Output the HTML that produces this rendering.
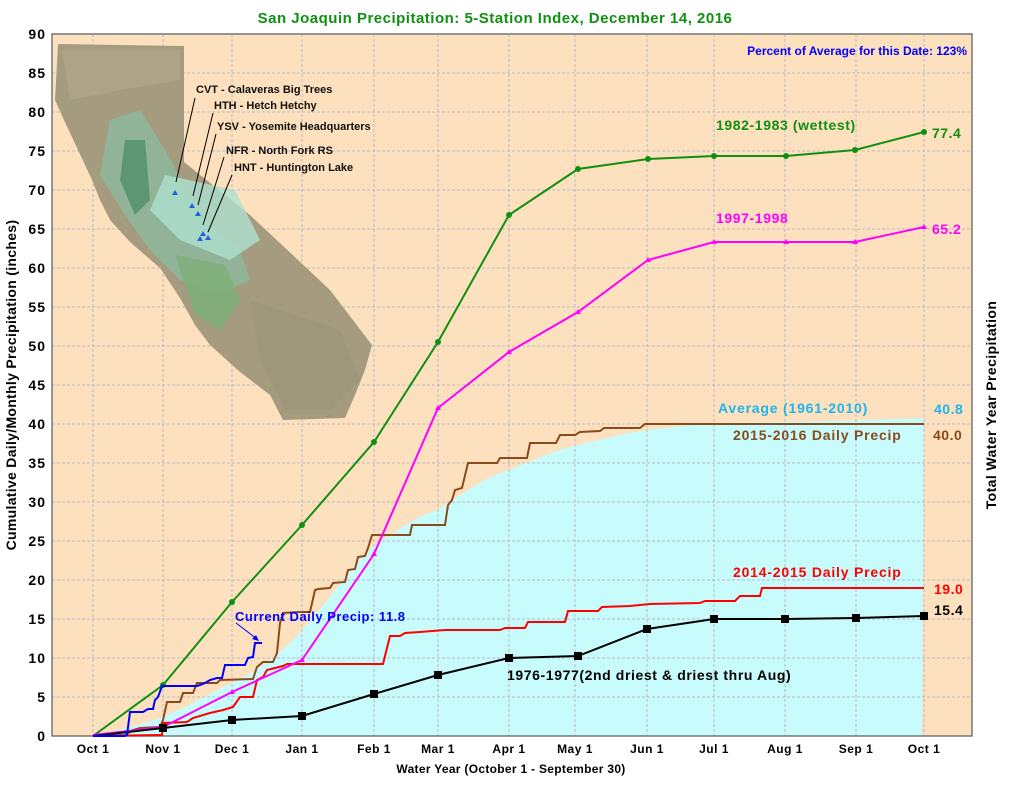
<!DOCTYPE html>
<html><head><meta charset="utf-8"><style>
body{margin:0;background:#fff;}
svg{display:block;font-family:"Liberation Sans",Arial,sans-serif;font-weight:bold;}
</style></head><body>
<svg width="1012" height="788" viewBox="0 0 1012 788" xmlns="http://www.w3.org/2000/svg">
<rect x="0" y="0" width="1012" height="788" fill="#fff"/>
<rect x="52" y="34" width="920" height="702" fill="#fde0bd"/>
<!-- average fill -->
<path d="M93,736 C120,730 150,722 163,717 C190,706 215,690 232,683 C260,670 285,650 302,630 C330,600 355,560 374,546 C400,528 420,515 438,510 C470,488 490,475 509,470 C540,457 560,449 578,445 C610,437 630,432 648,430 C680,426 700,424 714,423 C760,422 850,421 924,418 L922,736 Z" fill="#c8fcfc"/>
<!-- grid -->
<g stroke="#b8bcc8" stroke-width="1" stroke-dasharray="3,2">
<line x1="52" y1="697" x2="972" y2="697"/><line x1="52" y1="658" x2="972" y2="658"/><line x1="52" y1="619" x2="972" y2="619"/><line x1="52" y1="580" x2="972" y2="580"/><line x1="52" y1="541" x2="972" y2="541"/><line x1="52" y1="502" x2="972" y2="502"/><line x1="52" y1="463" x2="972" y2="463"/><line x1="52" y1="424" x2="972" y2="424"/><line x1="52" y1="385" x2="972" y2="385"/><line x1="52" y1="346" x2="972" y2="346"/><line x1="52" y1="307" x2="972" y2="307"/><line x1="52" y1="268" x2="972" y2="268"/><line x1="52" y1="229" x2="972" y2="229"/><line x1="52" y1="190" x2="972" y2="190"/><line x1="52" y1="151" x2="972" y2="151"/><line x1="52" y1="112" x2="972" y2="112"/><line x1="52" y1="73" x2="972" y2="73"/>
<line x1="93" y1="34" x2="93" y2="736"/><line x1="163" y1="34" x2="163" y2="736"/><line x1="232" y1="34" x2="232" y2="736"/><line x1="302" y1="34" x2="302" y2="736"/><line x1="374" y1="34" x2="374" y2="736"/><line x1="438" y1="34" x2="438" y2="736"/><line x1="509" y1="34" x2="509" y2="736"/><line x1="575" y1="34" x2="575" y2="736"/><line x1="647" y1="34" x2="647" y2="736"/><line x1="714" y1="34" x2="714" y2="736"/><line x1="785" y1="34" x2="785" y2="736"/><line x1="856" y1="34" x2="856" y2="736"/><line x1="924" y1="34" x2="924" y2="736"/>
</g>
<rect x="52" y="34" width="920" height="702" fill="none" stroke="#777" stroke-width="1.5"/>
<!-- map -->
<polygon points="58,44 184,46 184,162 250,215 330,290 372,345 365,370 355,395 345,418 283,420 270,395 240,372 210,345 195,325 180,298 160,268 130,242 110,220 100,200 92,180 78,150 64,120 55,100" fill="#a59c80"/>
<polygon points="110,120 140,110 165,150 200,215 240,250 250,280 215,295 180,280 150,250 125,215 100,175" fill="#8fb69a" opacity="0.9"/>
<polygon points="125,140 145,140 150,200 135,215 120,180" fill="#4f8f6a" opacity="0.8"/>
<polygon points="165,175 235,190 260,240 230,260 180,240 150,210" fill="#aee0d0" opacity="0.8"/>
<polygon points="175,255 225,265 240,300 220,330 195,315" fill="#7fae7a" opacity="0.9"/>
<polygon points="62,50 180,50 180,80 120,90 70,100" fill="#b3a68a" opacity="0.7"/>
<polygon points="250,300 340,330 360,380 330,410 285,410 260,360" fill="#9d9578" opacity="0.7"/>
<g fill="#2060e0"><polygon points="175,190 178,195 172,195"/><polygon points="192,203 195,208 189,208"/><polygon points="198,211 201,216 195,216"/><polygon points="203,231 206,236 200,236"/><polygon points="208,235 211,240 205,240"/><polygon points="200,236 203,241 197,241"/></g>
<g stroke="#000" stroke-width="1" fill="none">
<line x1="195" y1="98" x2="176" y2="182"/><line x1="213" y1="113" x2="193" y2="196"/><line x1="216" y1="134" x2="198" y2="205"/><line x1="224" y1="157" x2="203" y2="225"/><line x1="232" y1="175" x2="208" y2="232"/>
</g>
<g font-size="11" fill="#111">
<text x="196" y="93">CVT - Calaveras Big Trees</text>
<text x="214" y="109">HTH - Hetch Hetchy</text>
<text x="217" y="130">YSV - Yosemite Headquarters</text>
<text x="226" y="154">NFR - North Fork RS</text>
<text x="234" y="171">HNT - Huntington Lake</text>
</g>
<!-- series -->
<polyline fill="none" stroke="#109010" stroke-width="2" points="93,736 163,685 232,602 302,525 374,442 438,342 509,215 578,169 648,159 714,156 786,156 855,150 924,132"/>
<g fill="#109010"><circle cx="163" cy="685" r="3"/><circle cx="232" cy="602" r="3"/><circle cx="302" cy="525" r="3"/><circle cx="374" cy="442" r="3"/><circle cx="438" cy="342" r="3"/><circle cx="509" cy="215" r="3"/><circle cx="578" cy="169" r="3"/><circle cx="648" cy="159" r="3"/><circle cx="714" cy="156" r="3"/><circle cx="786" cy="156" r="3"/><circle cx="855" cy="150" r="3"/><circle cx="924" cy="132" r="3"/></g>
<polyline fill="none" stroke="#8b4a1c" stroke-width="2" points="93,736 125,735 133,730 140,728 160,727 163,720 167,702 180,702 183,693 193,693 197,683 217,683 220,680 253,679 257,667 263,662 273,662 277,653 280,623 283,613 300,612 310,612 315,590 318,589 330,588 333,583 345,582 348,570 355,569 358,557 365,556 368,548 372,535 410,535 412,525 445,525 448,505 452,500 455,490 462,488 468,463 497,463 500,458 527,458 530,443 556,443 560,435 575,435 580,432 600,431 604,428 640,428 645,424 924,424"/>
<polyline fill="none" stroke="#ff0000" stroke-width="2" points="93,736 160,735 162,735 163,723 187,722 193,718 210,713 223,710 233,707 240,697 253,697 257,680 263,677 267,670 283,666 287,664 383,664 390,636 400,636 405,633 420,632 445,630 500,630 505,628 525,628 528,622 565,622 568,611 598,611 602,607 630,606 650,604 700,603 705,601 735,601 740,596 760,596 762,588 924,588"/>
<polyline fill="none" stroke="#ff00ff" stroke-width="2" points="93,735 163,727 232,692 302,660 374,554 438,408 509,352 578,312 648,260 714,242 786,242 855,242 924,227"/>
<g fill="#ff00ff"><polygon points="163,724 166,729 160,729"/><polygon points="232,689 235,694 229,694"/><polygon points="302,657 305,662 299,662"/><polygon points="374,551 377,556 371,556"/><polygon points="438,405 441,410 435,410"/><polygon points="509,349 512,354 506,354"/><polygon points="578,309 581,314 575,314"/><polygon points="648,257 651,262 645,262"/><polygon points="714,239 717,244 711,244"/><polygon points="786,239 789,244 783,244"/><polygon points="855,239 858,244 852,244"/><polygon points="924,224 927,229 921,229"/></g>
<polyline fill="none" stroke="#000" stroke-width="2" points="93,736 163,728 232,720 302,716 374,694 438,675 509,658 578,656 647,629 714,619 785,619 856,618 924,616"/>
<g fill="#000"><rect x="159" y="724" width="8" height="8"/><rect x="228" y="716" width="8" height="8"/><rect x="298" y="712" width="8" height="8"/><rect x="370" y="690" width="8" height="8"/><rect x="434" y="671" width="8" height="8"/><rect x="505" y="654" width="8" height="8"/><rect x="574" y="652" width="8" height="8"/><rect x="643" y="625" width="8" height="8"/><rect x="710" y="615" width="8" height="8"/><rect x="781" y="615" width="8" height="8"/><rect x="852" y="614" width="8" height="8"/><rect x="920" y="612" width="8" height="8"/></g>
<polyline fill="none" stroke="#0000ff" stroke-width="2" points="93,736 125,736 127,735 130,712 143,712 148,709 153,709 155,700 158,697 162,686 197,686 200,685 205,683 210,680 217,678 222,678 225,665 245,665 248,658 253,657 255,643 262,643"/>
<line x1="236" y1="623" x2="257" y2="639" stroke="#0000ff" stroke-width="1"/>
<polygon points="259,641 252,639 256,635" fill="#0000ff"/>
<!-- labels -->
<text x="495" y="23" text-anchor="middle" font-size="15" fill="#109010" letter-spacing="0.5">San Joaquin Precipitation: 5-Station Index, December 14, 2016</text>
<text x="967" y="55" text-anchor="end" font-size="12" fill="#0000ff">Percent of Average for this Date: 123%</text>
<text x="716" y="130" font-size="14" fill="#109010" letter-spacing="0.6">1982-1983 (wettest)</text>
<text x="932" y="138" font-size="14" fill="#109010" letter-spacing="0.5">77.4</text>
<text x="716" y="223" font-size="14" fill="#ff00ff" letter-spacing="0.6">1997-1998</text>
<text x="932" y="234" font-size="14" fill="#ff00ff" letter-spacing="0.5">65.2</text>
<text x="718" y="413" font-size="14" fill="#1eb4f0" letter-spacing="0.8">Average (1961-2010)</text>
<text x="934" y="414" font-size="14" fill="#1eb4f0" letter-spacing="0.5">40.8</text>
<text x="733" y="440" font-size="14" fill="#8b4a1c" letter-spacing="0.8">2015-2016 Daily Precip</text>
<text x="933" y="440" font-size="14" fill="#8b4a1c" letter-spacing="0.5">40.0</text>
<text x="733" y="577" font-size="14" fill="#ff0000" letter-spacing="0.8">2014-2015 Daily Precip</text>
<text x="934" y="594" font-size="14" fill="#ff0000" letter-spacing="0.5">19.0</text>
<text x="934" y="615" font-size="14" fill="#000" letter-spacing="0.5">15.4</text>
<text x="507" y="680" font-size="14" fill="#000" letter-spacing="0.6">1976-1977(2nd driest &amp; driest thru Aug)</text>
<text x="235" y="621" font-size="13" fill="#0000ff" letter-spacing="0.5">Current Daily Precip: 11.8</text>
<g font-size="14" fill="#000" text-anchor="end" letter-spacing="1">
<text x="46" y="741">0</text><text x="46" y="702">5</text><text x="46" y="663">10</text><text x="46" y="624">15</text><text x="46" y="585">20</text><text x="46" y="546">25</text><text x="46" y="507">30</text><text x="46" y="468">35</text><text x="46" y="429">40</text><text x="46" y="390">45</text><text x="46" y="351">50</text><text x="46" y="312">55</text><text x="46" y="273">60</text><text x="46" y="234">65</text><text x="46" y="195">70</text><text x="46" y="156">75</text><text x="46" y="117">80</text><text x="46" y="78">85</text><text x="46" y="39">90</text>
</g>
<g font-size="12" fill="#000" text-anchor="middle" letter-spacing="0.5">
<text x="93" y="753">Oct 1</text><text x="163" y="753">Nov 1</text><text x="232" y="753">Dec 1</text><text x="302" y="753">Jan 1</text><text x="374" y="753">Feb 1</text><text x="438" y="753">Mar 1</text><text x="509" y="753">Apr 1</text><text x="575" y="753">May 1</text><text x="647" y="753">Jun 1</text><text x="714" y="753">Jul 1</text><text x="785" y="753">Aug 1</text><text x="856" y="753">Sep 1</text><text x="924" y="753">Oct 1</text>
</g>
<text x="511" y="773" text-anchor="middle" font-size="12" fill="#000" letter-spacing="0.3">Water Year (October 1 - September 30)</text>
<text transform="translate(16,385) rotate(-90)" text-anchor="middle" font-size="14" fill="#000" letter-spacing="0.3">Cumulative Daily/Monthly Precipitation (inches)</text>
<text transform="translate(996,405) rotate(-90)" text-anchor="middle" font-size="14" fill="#000" letter-spacing="0.4">Total Water Year Precipitation</text>
</svg>
</body></html>
